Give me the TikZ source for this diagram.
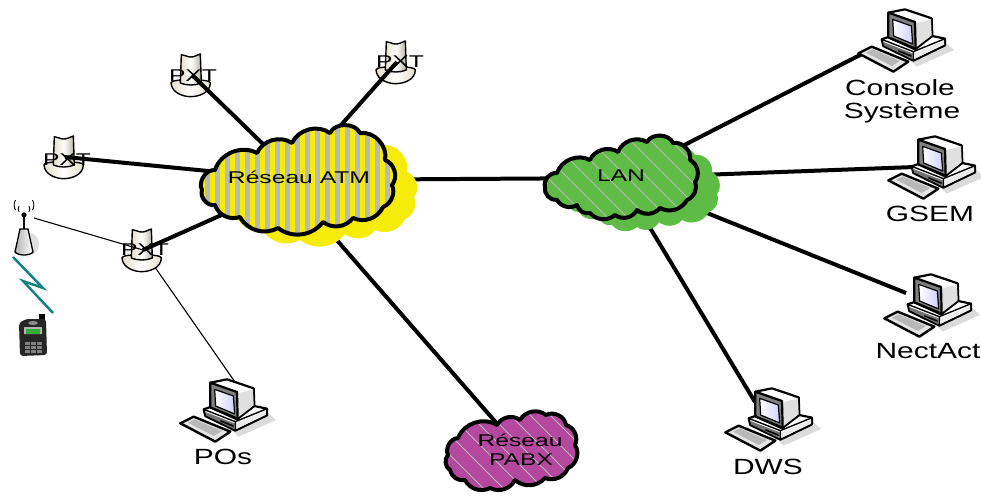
\documentclass[tikz,border=0pt]{standalone}
\usepackage{fontspec}
\usepackage{graphicx}
\setmainfont{Liberation Sans}
\usetikzlibrary{calc}
\definecolor{cyel}{HTML}{F5EC0A}
\definecolor{cgrn}{HTML}{5DBB46}
\definecolor{cpur}{HTML}{B4479E}
\definecolor{cstr}{HTML}{B9B9B9}
\definecolor{cteal}{HTML}{0F8080}
\definecolor{civory}{HTML}{E4DFCB}
\newcommand{\atmcloud}{(215,170) to[bend left=50] (257,153) to[bend left=50] (292,143) to[bend left=50] (330,133) to[bend left=65] (360,133) to[bend left=55] (385,160) to[bend left=55] (392,185) to[bend left=45] (383,207) to[bend left=45] (353,218) to[bend left=45] (323,222) to[bend left=45] (278,228) to[bend left=45] (240,217) to[bend left=45] (215,205) to[bend left=60] (202,190) to[bend left=60] (215,170) -- cycle}
\newcommand{\lancloud}{(557,173) to[bend left=50] (590,160) to[bend left=50] (618,152) to[bend left=50] (647,142) to[bend left=65] (673,143) to[bend left=55] (690,160) to[bend left=50] (695,182) to[bend left=45] (687,200) to[bend left=45] (660,208) to[bend left=45] (637,210) to[bend left=50] (615,215) to[bend left=45] (590,213) to[bend left=45] (577,205) to[bend left=45] (557,200) to[bend left=55] (545,187) to[bend left=55] (557,173) -- cycle}
\newcommand{\pabxcloud}{(458,438) to[bend left=50] (497,425) to[bend left=50] (520,420) to[bend left=50] (546,415) to[bend left=55] (566,425) to[bend left=50] (575,445) to[bend left=50] (568,468) to[bend left=45] (545,478) to[bend left=45] (515,480) to[bend left=45] (490,488) to[bend left=45] (465,480) to[bend left=45] (450,470) to[bend left=50] (448,455) to[bend left=55] (458,438) -- cycle}
\tikzset{
  thick link/.style={line width=4pt,black},
  thin link/.style={line width=1.1pt,black},
  cloud line/.style={line width=4pt,black,line join=round},
  big label/.style={font=\fontsize{22}{24}\selectfont,inner sep=0pt},
  mid label/.style={font=\fontsize{17}{20}\selectfont,inner sep=0pt},
  pics/pc/.style={code={
    \begin{scope}[shift={(-50,-40)},x=0.3333pt,y=-0.3333pt,line join=round]
      \fill[black!14] (285,125) -- (312,150) -- (200,200) -- (180,180) -- cycle;
      % base box
      \draw[line width=2.2pt,fill=white] (95,118) -- (170,92) -- (285,116) -- (285,136) -- (190,182) -- (100,138) -- cycle;
      \fill[black!55] (100,126) -- (188,160) -- (188,178) -- (102,136) -- cycle;
      \fill[black!8] (195,160) -- (282,122) -- (282,134) -- (195,176) -- cycle;
      \draw[line width=1.4pt] (190,155) -- (190,182) (95,118) -- (190,155) -- (285,116);
      \fill[black] (145,150) -- (185,166) -- (185,171) -- (145,155) -- cycle;
      % monitor
      \draw[line width=2.2pt,fill=white] (115,38) -- (165,28) -- (245,55) -- (247,108) -- (195,148) -- (115,112) -- cycle;
      \fill[black!12] (197,70) -- (243,58) -- (245,106) -- (197,143) -- cycle;
      \draw[line width=2.2pt,fill=black!50] (115,38) -- (195,66) -- (197,146) -- (115,112) -- cycle;
      \draw[line width=1.2pt,left color=white,right color=blue!18] (128,58) -- (184,78) -- (188,132) -- (131,108) -- cycle;
      % keyboard
      \draw[line width=2.4pt,fill=black!10] (25,160) -- (65,140) -- (175,185) -- (130,215) -- cycle;
      \fill[black!28] (48,158) -- (68,148) -- (150,183) -- (125,198) -- cycle;
    \end{scope}
  }},
  pics/pxt/.style={code={
    \begin{scope}[shift={(-65,-27)},x=0.3333pt,y=-0.3333pt,line join=round]
      \draw[line width=1.4pt,left color=civory,right color=civory,middle color=white]
        (132,104) .. controls (133,135) and (170,146) .. (190,146) .. controls (215,146) and (250,135) .. (250,104)
        .. controls (248,92) and (132,92) .. (132,104) -- cycle;
      \draw[line width=1.4pt,left color=civory,right color=civory!80!black,middle color=white]
        (163,20) -- (178,24) .. controls (185,28) and (198,28) .. (205,24) -- (220,18) -- (223,105)
        .. controls (205,113) and (178,113) .. (160,105) -- cycle;
    \end{scope}
  }},
}
\begin{document}
\begin{tikzpicture}[x=1pt,y=-1pt]
\useasboundingbox (0,0) rectangle (981,495);
% anchor points
\coordinate (atm) at (300,180);
\coordinate (lan) at (620,178);
\coordinate (pabx) at (520,450);
\coordinate (pxtA) at (192,75);
\coordinate (pxtB) at (397,62);
\coordinate (pxtC) at (65,157);
\coordinate (pxtD) at (143,250);
\coordinate (ant) at (34,218);
\coordinate (pcA) at (900,40);
\coordinate (pcB) at (930,167);
\coordinate (pcC) at (926,305);
\coordinate (pcD) at (767,419);
\coordinate (pcE) at (222,410);
\coordinate (lanA) at (862,54);
\coordinate (lanB) at (915,167);
\coordinate (lanC) at (906,293);
\coordinate (lanD) at (755,402);
\coordinate (atmB) at (310,160);
\coordinate (atmC) at (300,198);
\coordinate (posA) at (235,382);
% links beneath the icons
\draw[thin link] (pxtD) -- (posA);
% PXT icons
\foreach \n in {pxtA,pxtB,pxtC,pxtD} \pic at (\n) {pxt};
% links
\draw[thick link] (pxtA) -- (atm);
\draw[thick link] (pxtB) -- (atmB);
\draw[thick link] (pxtC) -- (atm);
\draw[thick link] (pxtD) -- (atm);
\draw[thin link] (ant) -- (pxtD);
\draw[thick link] (atm) -- (lan);
\draw[thick link] (atmC) -- (pabx);
\draw[thick link] (lan) -- (lanA);
\draw[thick link] (lan) -- (lanB);
\draw[thick link] (lan) -- (lanC);
\draw[thick link] (lan) -- (lanD);
% ATM cloud
\begin{scope}[shift={(22,12)}]
  \fill[cyel] \atmcloud;
\end{scope}
\begin{scope}
  \clip \atmcloud;
  \fill[cyel] (190,120) rectangle (410,240);
  \foreach \x in {195,205,...,405} \fill[cstr] (\x,120) rectangle ++(5,120);
\end{scope}
\draw[cloud line] \atmcloud;
% LAN cloud
\begin{scope}[shift={(22,12)}]
  \fill[cgrn] \lancloud;
\end{scope}
\begin{scope}
  \clip \lancloud;
  \fill[cgrn] (530,130) rectangle (710,230);
  \foreach \x in {420,440,...,700} \draw[cstr,line width=1pt] (\x,130) -- ++(110,110);
\end{scope}
\draw[cloud line] \lancloud;
% PABX cloud
\begin{scope}
  \clip \pabxcloud;
  \fill[cpur] (440,405) rectangle (585,495);
  \foreach \x in {360,380,...,580} \draw[cstr,line width=1pt] (\x,405) -- ++(90,90);
\end{scope}
\draw[cloud line] \pabxcloud;
% computers
\foreach \n in {pcA,pcB,pcC,pcD,pcE} \pic at (\n) {pc};
% antenna
\fill[black!12] (30,244) ellipse (9 and 11);
\shade[left color=black!30,right color=white,draw=black,line width=1.3pt]
  (20,229) -- (28,229) -- (33,252) .. controls (30,256) and (18,256) .. (15,252) -- cycle;
\draw[line width=1.8pt] (24,215) -- (24,229);
\fill (24,215) circle (2.6pt);
\draw[line width=.9pt] (19,212) arc (150:210:6) (29,212) arc (30:-30:6)
  (15.5,210) arc (150:210:10) (32.5,210) arc (30:-30:10);
% bolt
\draw[cteal,line width=2.4pt,line join=miter] (13,257) -- (43,288) -- (23,281) -- (53,313);
% phone
\fill[black] (39,314) rectangle (45,324);
\fill[black!85,rounded corners=3pt] (19,323) -- (26,319) -- (46,319) -- (47,355) -- (20,356) -- cycle;
\fill[black!45] (33,323) ellipse (5 and 2);
\fill[black!30,rounded corners=.5pt] (24,327) rectangle (42,334);
\fill[green!60!black!80] (26,329) rectangle (40,333.5);
\foreach \x in {25,31,37} \foreach \y in {342,346,350} \fill[black!50] (\x,\y) rectangle ++(4.5,2.5);
% labels
\node[mid label] (tA) at (193,76) {\scalebox{1.45}[1]{PXT}};
\node[mid label] (tB) at (400,62) {\scalebox{1.45}[1]{PXT}};
\node[mid label] (tC) at (67,160) {\scalebox{1.45}[1]{PXT}};
\node[mid label] (tD) at (145,250) {\scalebox{1.45}[1]{PXT}};
\node[mid label] (tatm) at (299,177) {\scalebox{1.45}[1]{Réseau ATM}};
\node[mid label] (tlan) at (621,176) {\scalebox{1.45}[1]{LAN}};
\node[mid label] (tpa) at (520,440) {\scalebox{1.45}[1]{Réseau}};
\node[mid label] (tpb) at (521,460) {\scalebox{1.45}[1]{PABX}};
\node[big label] (l1) at (900,88) {\scalebox{1.36}[1]{Console}};
\node[big label] (l2) at (902,113) {\scalebox{1.36}[1]{Système}};
\node[big label] (l3) at (930,214) {\scalebox{1.36}[1]{GSEM}};
\node[big label] (l4) at (928,351) {\scalebox{1.36}[1]{NectAct}};
\node[big label] (l5) at (768,467) {\scalebox{1.36}[1]{DWS}};
\node[big label] (l6) at (223,457) {\scalebox{1.36}[1]{POs}};
\end{tikzpicture}
\end{document}
